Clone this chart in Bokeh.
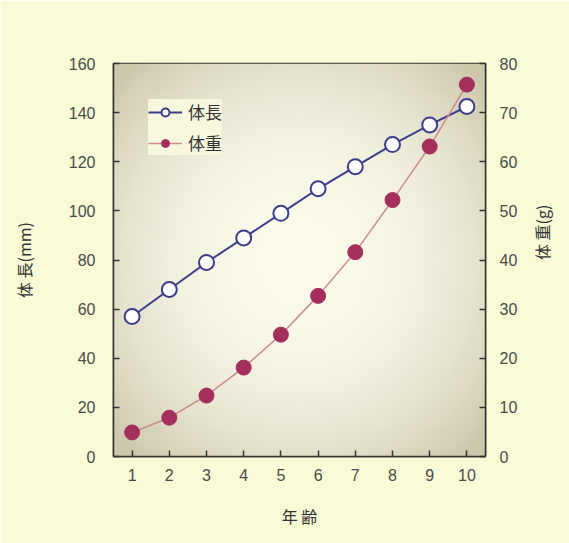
import numpy as np
from bokeh.plotting import figure
from bokeh.models import Range1d, LinearAxis, FixedTicker, Legend, LegendItem
from bokeh.embed import file_html
from bokeh.resources import INLINE

age = [1, 2, 3, 4, 5, 6, 7, 8, 9, 10]
length_mm = [57, 68, 79, 89, 99, 109, 118, 127, 135, 142.5]
weight_g = [4.9, 7.9, 12.4, 18.1, 24.8, 32.7, 41.6, 52.2, 63.1, 75.7]
left_ticks = [0, 20, 40, 60, 80, 100, 120, 140, 160]
right_ticks = [0, 10, 20, 30, 40, 50, 60, 70, 80]

JP = "Noto Sans CJK JP"
NUM = "Liberation Sans"

p = figure(width=569, height=543, output_backend="svg", toolbar_location=None,
           x_range=Range1d(0.5, 10.5), y_range=Range1d(0, 160),
           min_border_left=113, min_border_right=84, min_border_top=63, min_border_bottom=87)
p.border_fill_color = "#f9fad6"
p.outline_line_color = "#333333"
p.outline_line_width = 1.5
p.grid.visible = False
p.extra_y_ranges = {"w": Range1d(0, 80)}

# plot-area gradient background
nx, ny = 200, 200
gx = np.linspace(-1, 1, nx)
gy = np.linspace(-1, 1, ny)
X, Y = np.meshgrid(gx, gy)
t = np.clip(np.sqrt(X ** 2 + Y ** 2) / 1.35, 0, 1) ** 2.2
c0 = np.array([252, 251, 236])
c1 = np.array([205, 200, 172])
img = np.empty((ny, nx), dtype=np.uint32)
view = img.view(dtype=np.uint8).reshape((ny, nx, 4))
for k in range(3):
    view[:, :, k] = (c0[k] * (1 - t) + c1[k] * t).astype(np.uint8)
view[:, :, 3] = 255
p.image_rgba(image=[img], x=0.5, y=0, dw=10, dh=160)

l_line = p.line(age, length_mm, line_color="#3b3d8c", line_width=2)
l_pts = p.scatter(age, length_mm, size=15, fill_color="white", line_color="#3b3d8c", line_width=2)
w_line = p.line(age, weight_g, line_color="#c98a90", line_width=1.5, y_range_name="w")
w_pts = p.scatter(age, weight_g, size=15, fill_color="#a52f5c", line_color="#a52f5c",
                  line_width=1, y_range_name="w")

def style(ax):
    ax.major_tick_in = 6
    ax.major_tick_out = 0
    ax.minor_tick_in = 0
    ax.minor_tick_out = 0
    ax.axis_line_color = "#333333"
    ax.axis_line_width = 1.5
    ax.major_tick_line_color = "#333333"
    ax.major_tick_line_width = 1.5
    ax.major_label_text_font = NUM
    ax.major_label_text_font_size = "16px"
    ax.major_label_text_color = "#4a4a4a"
    ax.axis_label_text_font = JP
    ax.axis_label_text_font_size = "16px"
    ax.axis_label_text_font_style = "normal"
    ax.axis_label_text_color = "#333333"

xa = p.xaxis[0]
style(xa)
xa.ticker = FixedTicker(ticks=age)
xa.axis_label = "年 齢"
xa.major_label_standoff = 12
xa.axis_label_standoff = 20

ya = p.yaxis[0]
style(ya)
ya.ticker = FixedTicker(ticks=left_ticks)
ya.axis_label = "体 長(mm)"
ya.major_label_standoff = 18
ya.axis_label_standoff = 30

ra = LinearAxis(y_range_name="w")
style(ra)
ra.ticker = FixedTicker(ticks=right_ticks)
ra.axis_label = "体 重(g)"
ra.axis_label_orientation = np.pi / 2
ra.major_label_standoff = 14
ra.axis_label_standoff = 22
p.add_layout(ra, "right")

legend = Legend(items=[LegendItem(label="体長", renderers=[l_line, l_pts]),
                       LegendItem(label="体重", renderers=[w_line, w_pts])],
                location=(35, 301))
legend.background_fill_color = "#f8f8de"
legend.background_fill_alpha = 1.0
legend.border_line_color = None
legend.label_text_font = JP
legend.label_text_font_size = "17px"
legend.label_text_color = "#333333"
legend.glyph_width = 34
legend.glyph_height = 20
legend.label_standoff = 6
legend.spacing = 6
legend.padding = 14
legend.margin = 0
p.add_layout(legend, "center")

open("out.html", "w").write(file_html(p, INLINE))
